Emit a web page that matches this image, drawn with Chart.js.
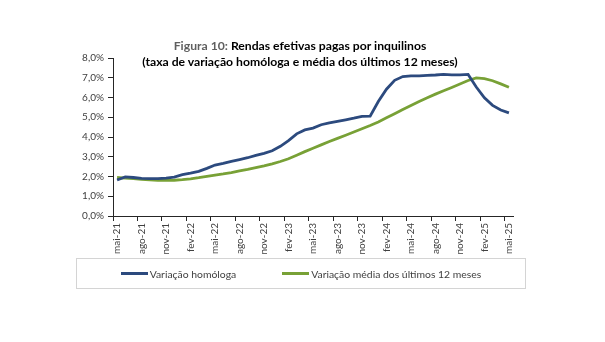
<!DOCTYPE html>
<html lang="pt">
<head>
<meta charset="utf-8">
<title>Rendas efetivas pagas por inquilinos</title>
<script src="https://cdn.jsdelivr.net/npm/chart.js@4/dist/chart.umd.min.js"></script>
<style>
    body { margin: 0; background: #fff; font-family: Lato, "Noto Sans", sans-serif; }
    #wrap { position: relative; width: 605px; height: 342px; }
    #title {
        position: absolute; left: 0; top: 38px; width: 600px;
        text-align: center; font-weight: bold; font-size: 12.2px;
        line-height: 16px; color: #000; z-index: 2;
    }
    #title .fig { color: #5f5f5f; }
    #legend {
        position: absolute; left: 76px; top: 258px; width: 448px; height: 29px;
        border: 1px solid #d4d4d4; display: flex; justify-content: center;
        align-items: center; gap: 46px; font-size: 10.4px; color: #404040;
    }
    #legend .item { display: flex; align-items: center; }
    #legend .swatch { width: 27px; height: 3px; margin-right: 2px; }
</style>
</head>
<body>
<div id="wrap">
    <canvas id="rendasChart"></canvas>
    <div id="title">
        <span class="fig">Figura 10:</span> Rendas efetivas pagas por inquilinos<br>
        (taxa de variação homóloga e média dos últimos 12 meses)
    </div>
    <div id="legend"></div>
</div>
<script>
// monthly observations, mai-21 .. mai-25
const months = [
    'mai-21', 'jun-21', 'jul-21', 'ago-21', 'set-21', 'out-21', 'nov-21', 'dez-21',
    'jan-22', 'fev-22', 'mar-22', 'abr-22', 'mai-22', 'jun-22', 'jul-22', 'ago-22',
    'set-22', 'out-22', 'nov-22', 'dez-22', 'jan-23', 'fev-23', 'mar-23', 'abr-23',
    'mai-23', 'jun-23', 'jul-23', 'ago-23', 'set-23', 'out-23', 'nov-23', 'dez-23',
    'jan-24', 'fev-24', 'mar-24', 'abr-24', 'mai-24', 'jun-24', 'jul-24', 'ago-24',
    'set-24', 'out-24', 'nov-24', 'dez-24', 'jan-25', 'fev-25', 'mar-25', 'abr-25',
    'mai-25'
];

// taxa de variação homóloga (%)
const variacaoHomologa = [
    1.82, 1.98, 1.95, 1.91, 1.89, 1.89, 1.92, 1.97,
    2.09, 2.17, 2.26, 2.41, 2.58, 2.66, 2.77, 2.86,
    2.95, 3.07, 3.17, 3.30, 3.53, 3.82, 4.16, 4.36,
    4.45, 4.62, 4.71, 4.79, 4.87, 4.95, 5.04, 5.06,
    5.80, 6.42, 6.87, 7.06, 7.10, 7.10, 7.12, 7.14,
    7.17, 7.15, 7.15, 7.17, 6.53, 5.98, 5.60, 5.37,
    5.22
];

// variação média dos últimos 12 meses (%)
const variacaoMedia = [
    1.95, 1.92, 1.89, 1.85, 1.83, 1.81, 1.80, 1.81,
    1.84, 1.88, 1.94, 2.01, 2.07, 2.13, 2.20, 2.28,
    2.36, 2.45, 2.54, 2.64, 2.76, 2.90, 3.08, 3.26,
    3.43, 3.60, 3.77, 3.93, 4.09, 4.25, 4.42, 4.58,
    4.76, 4.97, 5.18, 5.39, 5.60, 5.80, 5.99, 6.17,
    6.34, 6.51, 6.68, 6.86, 6.99, 6.96, 6.85, 6.69,
    6.52
];

const yTicks = [0, 1, 2, 3, 4, 5, 6, 7, 8];

const series = [
    { label: 'Variação homóloga', data: variacaoHomologa, color: '#2c4a7e' },
    { label: 'Variação média dos últimos 12 meses', data: variacaoMedia, color: '#78a136' }
];

const axisColor = '#262626';
const tickFont = { family: 'Lato', size: 10 };

// legend box below the chart
const legendEl = document.getElementById('legend');
series.forEach(s => {
    const item = document.createElement('div');
    item.className = 'item';
    item.innerHTML = '<span class="swatch" style="background:' + s.color + '"></span>' + s.label;
    legendEl.appendChild(item);
});

const ctx = document.getElementById('rendasChart').getContext('2d');
new Chart(ctx, {
    type: 'line',
    data: {
        labels: months,
        datasets: series.map(s => ({
            label: s.label,
            data: s.data,
            borderColor: s.color,
            backgroundColor: s.color,
            borderWidth: 2.8,
            pointRadius: 0,
            tension: 0,
            fill: false
        }))
    },
    options: {
        responsive: true,
        maintainAspectRatio: false,
        animation: false,
        layout: { padding: { left: 0, right: 92, top: 58, bottom: 86 } },
        plugins: {
            legend: { display: false },
            title: { display: false },
            tooltip: { enabled: false }
        },
        scales: {
            x: {
                offset: true,
                grid: {
                    offset: true,
                    drawOnChartArea: false,
                    drawTicks: true,
                    tickLength: 5,
                    color: c => (c.index !== undefined && c.index % 3 === 0) ? axisColor : 'rgba(0,0,0,0)'
                },
                border: { display: true, color: axisColor, width: 1 },
                ticks: {
                    autoSkip: false,
                    maxRotation: 90,
                    minRotation: 90,
                    padding: 2,
                    color: '#404040',
                    font: tickFont,
                    callback: (v, i) => i % 3 === 0 ? months[i] : ''
                },
                afterFit: scale => { scale.height = 40; }
            },
            y: {
                min: yTicks[0],
                max: yTicks[yTicks.length - 1],
                afterBuildTicks: scale => { scale.ticks = yTicks.map(v => ({ value: v })); },
                grid: {
                    drawOnChartArea: false,
                    drawTicks: true,
                    tickLength: 5,
                    color: axisColor
                },
                border: { display: true, color: axisColor, width: 1 },
                ticks: {
                    padding: 4,
                    color: '#404040',
                    font: tickFont,
                    callback: v => v.toFixed(1).replace('.', ',') + '%'
                },
                afterFit: scale => { scale.width = 113; }
            }
        }
    }
});
</script>
</body>
</html>
